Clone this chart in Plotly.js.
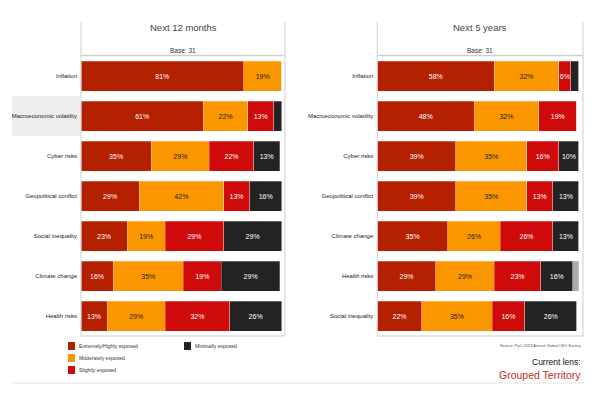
<!DOCTYPE html>
<html>
<head>
<meta charset="utf-8">
<script src="https://cdn.plot.ly/plotly-3.0.1.min.js"></script>
<style>html,body{margin:0;padding:0;background:#fff;}#chart{width:600px;height:400px;}</style>
</head>
<body>
<div id="chart"></div>
<script>
// ---- data ----
const categories12m = ["Inflation","Macroeconomic volatility","Cyber risks","Geopolitical conflict","Social inequality","Climate change","Health risks"];
const categories5y = ["Inflation","Macroeconomic volatility","Cyber risks","Geopolitical conflict","Climate change","Health risks","Social inequality"];
const seriesNames = ["Extremely/Highly exposed","Moderately exposed","Slightly exposed","Minimally exposed","Not exposed"];
const extreme12m  = [81, 61, 35, 29, 23, 16, 13];
const moderate12m = [19, 22, 29, 42, 19, 35, 29];
const slight12m   = [0, 13, 22, 13, 29, 19, 32];
const minimal12m  = [0, 4, 13, 16, 29, 29, 26];
const none12m     = [0, 0, 0, 0, 0, 0, 0];
const extreme5y   = [58, 48, 39, 39, 35, 29, 22];
const moderate5y  = [32, 32, 35, 35, 26, 29, 35];
const slight5y    = [6, 19, 16, 13, 26, 23, 16];
const minimal5y   = [4, 0, 10, 13, 13, 16, 26];
const none5y      = [0, 0, 0, 0, 0, 3, 0];
const panelTitles = ["Next 12 months","Next 5 years"];
const baseLabels = ["Base: 31","Base: 31"];
const highlightedCategory = "Macroeconomic volatility";
const sourceText = "Source: PwC 2023 Annual Global CEO Survey";
const lensLabel = "Current lens:";
const lensValue = "Grouped Territory";

// ---- styles ----
const colors = ["#B42000","#FA9600","#CF0A0A","#232323","#AAAAAA"];
const textColors = ["#ffffff","#222222","#ffffff","#ffffff","#ffffff"];
const FONT = "Liberation Sans, Arial, sans-serif";
const W = 600, H = 400;
const px = v => v / W;
const py = v => 1 - v / H;

const panels = [
  {cats: categories12m, series:[extreme12m, moderate12m, slight12m, minimal12m, none12m], xa:'x', ya:'y', x0:81, x1:281.7, frameR:285},
  {cats: categories5y, series:[extreme5y, moderate5y, slight5y, minimal5y, none5y], xa:'x2', ya:'y2', x0:377.3, x1:579, frameR:583}
];
const plotTop = 56, plotBottom = 336, headTop = 22;

const traces = [];
panels.forEach((p) => {
  p.series.forEach((vals, si) => {
    if (vals.every(v => v === 0)) return;
    traces.push({
      type:'bar', orientation:'h', name: seriesNames[si],
      y: p.cats, x: vals,
      text: vals.map(v => v >= 5 ? v + '%' : ''),
      textposition:'inside', insidetextanchor:'middle', textangle:0,
      textfont:{family:FONT, size:7, color:textColors[si]},
      marker:{color:colors[si], line:{color:'rgba(255,255,255,0.35)', width:0.8}},
      xaxis:p.xa, yaxis:p.ya, showlegend:false, hoverinfo:'skip', cliponaxis:false
    });
  });
});

const shapes = [];
const annotations = [];
const lineStyle = {color:'#cfcfcf', width:1};

// highlighted category background (left panel)
const hiIdx = categories12m.indexOf(highlightedCategory);
const step = (plotBottom - plotTop) / categories12m.length;
shapes.push({type:'rect', xref:'paper', yref:'paper', layer:'below',
  x0:px(12), x1:px(80), y0:py(plotTop + step*hiIdx), y1:py(plotTop + step*(hiIdx+1)),
  fillcolor:'#ededed', line:{width:0}});

panels.forEach((p, i) => {
  shapes.push({type:'line', xref:'paper', yref:'paper', x0:px(p.x0), x1:px(p.x0), y0:py(headTop), y1:py(plotBottom), line:lineStyle});
  shapes.push({type:'line', xref:'paper', yref:'paper', x0:px(p.frameR), x1:px(p.frameR), y0:py(headTop), y1:py(plotBottom), line:lineStyle});
  shapes.push({type:'line', xref:'paper', yref:'paper', x0:px(p.x0), x1:px(p.frameR), y0:py(plotTop-0.5), y1:py(plotTop-0.5), line:{color:'#cfcfcf', width:1.5}});
  shapes.push({type:'line', xref:'paper', yref:'paper', x0:px(p.x0), x1:px(p.frameR), y0:py(plotBottom), y1:py(plotBottom), line:{color:'#dcdcdc', width:1.5}});
  const cx = px((p.x0 + p.frameR)/2);
  annotations.push({xref:'paper', yref:'paper', x:cx, y:py(27), text:panelTitles[i], showarrow:false,
    font:{family:FONT, size:9.5, color:'#444'}, xanchor:'center', yanchor:'middle'});
  annotations.push({xref:'paper', yref:'paper', x:cx, y:py(51), text:baseLabels[i], showarrow:false,
    font:{family:FONT, size:6.5, color:'#333'}, xanchor:'center', yanchor:'middle'});
});

// legend (manual)
const legendPos = [[68,346],[68,358],[68,370],[184,346]];
legendPos.forEach((pos, i) => {
  shapes.push({type:'rect', xref:'paper', yref:'paper', x0:px(pos[0]), x1:px(pos[0]+7), y0:py(pos[1]-4), y1:py(pos[1]+4),
    fillcolor:colors[i], line:{width:0}});
  annotations.push({xref:'paper', yref:'paper', x:px(pos[0]+8.5), y:py(pos[1]), text:seriesNames[i], showarrow:false,
    font:{family:FONT, size:5.1, color:'#333'}, xanchor:'left', yanchor:'middle'});
});

// footer
annotations.push({xref:'paper', yref:'paper', x:px(583), y:py(345), text:sourceText, showarrow:false,
  font:{family:FONT, size:3.9, color:'#555'}, xanchor:'right', yanchor:'middle'});
annotations.push({xref:'paper', yref:'paper', x:px(583), y:py(362), text:lensLabel, showarrow:false,
  font:{family:FONT, size:8.5, color:'#111'}, xanchor:'right', yanchor:'middle'});
annotations.push({xref:'paper', yref:'paper', x:px(583), y:py(375), text:lensValue, showarrow:false,
  font:{family:FONT, size:10.5, color:'#C0301A'}, xanchor:'right', yanchor:'middle'});
shapes.push({type:'line', xref:'paper', yref:'paper', x0:px(12), x1:px(583), y0:py(383), y1:py(383), line:{color:'#e3e3e3', width:1}});

const xBase = {range:[0,100], showgrid:false, zeroline:false, showticklabels:false, ticks:'', fixedrange:true};
const yBase = {autorange:'reversed', showgrid:false, zeroline:false, ticks:'', showline:false,
  tickfont:{family:FONT, size:6, color:'#222'}, domain:[py(plotBottom), py(plotTop)], ticklabelstandoff:3};

const layout = {
  width:W, height:H, margin:{l:0, r:0, t:0, b:0},
  paper_bgcolor:'#fff', plot_bgcolor:'rgba(0,0,0,0)',
  barmode:'stack', bargap:0.25, showlegend:false,
  uniformtext:{mode:'show', minsize:7},
  font:{family:FONT},
  xaxis: Object.assign({}, xBase, {domain:[px(panels[0].x0), px(panels[0].x1)], anchor:'y'}),
  yaxis: Object.assign({}, yBase, {anchor:'x'}),
  xaxis2: Object.assign({}, xBase, {domain:[px(panels[1].x0), px(panels[1].x1)], anchor:'y2'}),
  yaxis2: Object.assign({}, yBase, {anchor:'x2'}),
  shapes: shapes, annotations: annotations
};

Plotly.newPlot('chart', traces, layout, {staticPlot:true, displayModeBar:false});
</script>
</body>
</html>
